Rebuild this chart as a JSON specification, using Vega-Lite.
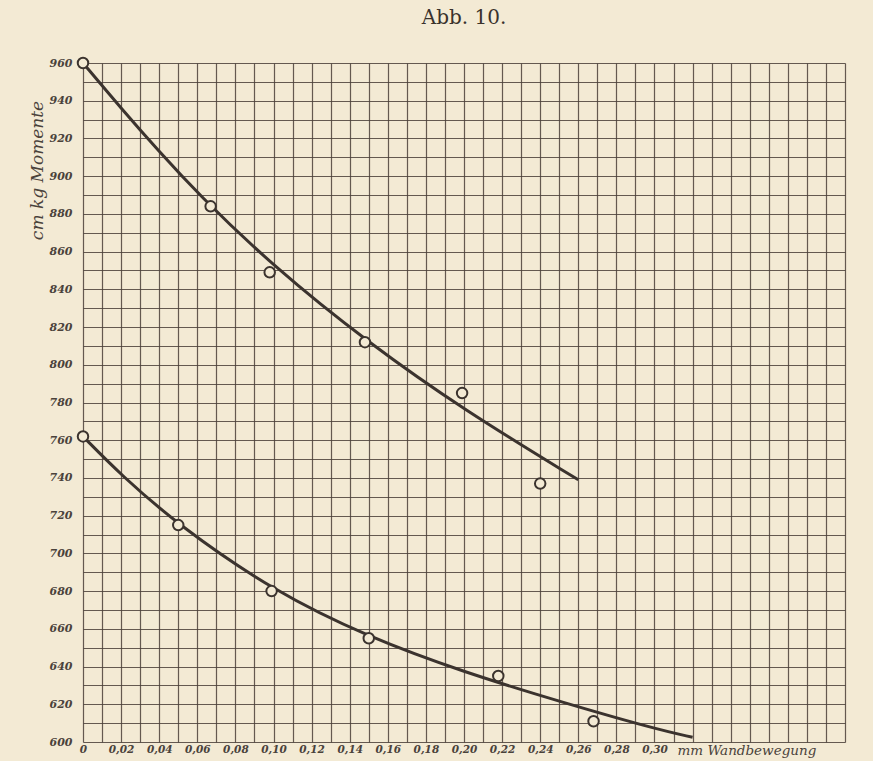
{
  "$schema": "https://vega.github.io/schema/vega-lite/v6.json",
  "autosize": {"type": "none"},
  "padding": {"left": 83, "top": 63, "right": 28, "bottom": 19},
  "width": 762,
  "height": 679,
  "background": "#f3ead4",
  "title": {
    "text": "Abb. 10.",
    "font": "DejaVu Serif",
    "fontSize": 20,
    "fontWeight": "normal",
    "color": "#3a322c",
    "anchor": "middle",
    "frame": "group",
    "baseline": "alphabetic",
    "offset": 10
  },
  "data": {
    "values": [
      {"series": "oben", "kind": "curve", "x": 0, "y": 960},
      {"series": "oben", "kind": "curve", "x": 0.02, "y": 936},
      {"series": "oben", "kind": "curve", "x": 0.04, "y": 913},
      {"series": "oben", "kind": "curve", "x": 0.06, "y": 891},
      {"series": "oben", "kind": "curve", "x": 0.10, "y": 852},
      {"series": "oben", "kind": "curve", "x": 0.15, "y": 811.5},
      {"series": "oben", "kind": "curve", "x": 0.20, "y": 776},
      {"series": "oben", "kind": "curve", "x": 0.26, "y": 739},
      {"series": "unten", "kind": "curve", "x": 0, "y": 762},
      {"series": "unten", "kind": "curve", "x": 0.02, "y": 741.5},
      {"series": "unten", "kind": "curve", "x": 0.05, "y": 715},
      {"series": "unten", "kind": "curve", "x": 0.10, "y": 680},
      {"series": "unten", "kind": "curve", "x": 0.15, "y": 655.5},
      {"series": "unten", "kind": "curve", "x": 0.20, "y": 637},
      {"series": "unten", "kind": "curve", "x": 0.25, "y": 621.5},
      {"series": "unten", "kind": "curve", "x": 0.30, "y": 607},
      {"series": "unten", "kind": "curve", "x": 0.32, "y": 602.5},
      {"series": "oben", "kind": "point", "x": 0, "y": 960},
      {"series": "oben", "kind": "point", "x": 0.067, "y": 884},
      {"series": "oben", "kind": "point", "x": 0.098, "y": 849},
      {"series": "oben", "kind": "point", "x": 0.148, "y": 812},
      {"series": "oben", "kind": "point", "x": 0.199, "y": 785},
      {"series": "oben", "kind": "point", "x": 0.24, "y": 737},
      {"series": "unten", "kind": "point", "x": 0, "y": 762},
      {"series": "unten", "kind": "point", "x": 0.05, "y": 715},
      {"series": "unten", "kind": "point", "x": 0.099, "y": 680},
      {"series": "unten", "kind": "point", "x": 0.15, "y": 655},
      {"series": "unten", "kind": "point", "x": 0.218, "y": 635},
      {"series": "unten", "kind": "point", "x": 0.268, "y": 611}
    ]
  },
  "encoding": {
    "x": {
      "field": "x",
      "type": "quantitative",
      "scale": {"domain": [0, 0.4], "nice": false, "zero": false},
      "axis": {
        "values": [0,0.01,0.02,0.03,0.04,0.05,0.06,0.07,0.08,0.09,0.1,0.11,0.12,0.13,0.14,0.15,0.16,0.17,0.18,0.19,0.2,0.21,0.22,0.23,0.24,0.25,0.26,0.27,0.28,0.29,0.3,0.31,0.32,0.33,0.34,0.35,0.36,0.37,0.38,0.39,0.4],
        "labelExpr": "datum.value == 0 ? '0' : ((round(datum.value*100) % 2 == 0 && datum.value < 0.305) ? replace(format(datum.value, '.2f'), '.', ',') : '')",
        "labelFont": "DejaVu Serif",
        "labelFontStyle": "italic",
        "labelFontWeight": "bold",
        "labelFontSize": 10.5,
        "labelColor": "#4a423b",
        "labelPadding": 2,
        "labelBaseline": "top",
        "labelOverlap": false,
        "labelFlush": false,
        "ticks": false,
        "domain": false,
        "grid": true,
        "gridColor": "#4a4038",
        "gridOpacity": 0.85,
        "gridWidth": 1.2,
        "title": "mm Wandbewegung",
        "titleFont": "DejaVu Serif",
        "titleFontStyle": "italic",
        "titleFontWeight": "normal",
        "titleFontSize": 13.5,
        "titleColor": "#4a423b",
        "titleAlign": "left",
        "titleBaseline": "middle",
        "titleX": 594,
        "titleY": 8
      }
    },
    "y": {
      "field": "y",
      "type": "quantitative",
      "scale": {"domain": [600, 960], "nice": false, "zero": false},
      "axis": {
        "values": [600,610,620,630,640,650,660,670,680,690,700,710,720,730,740,750,760,770,780,790,800,810,820,830,840,850,860,870,880,890,900,910,920,930,940,950,960],
        "labelExpr": "datum.value % 20 == 0 ? datum.value : ''",
        "labelFont": "DejaVu Serif",
        "labelFontStyle": "italic",
        "labelFontWeight": "bold",
        "labelFontSize": 11,
        "labelColor": "#4a423b",
        "labelPadding": 11,
        "labelOverlap": false,
        "labelFlush": false,
        "ticks": false,
        "domain": false,
        "grid": true,
        "gridColor": "#4a4038",
        "gridOpacity": 0.85,
        "gridWidth": 1.2,
        "title": "cm kg Momente",
        "titleFont": "DejaVu Serif",
        "titleFontStyle": "italic",
        "titleFontWeight": "normal",
        "titleFontSize": 17,
        "titleColor": "#4a423b",
        "titleAngle": -90,
        "titleAlign": "center",
        "titleBaseline": "middle",
        "titleX": -46,
        "titleY": 107
      }
    }
  },
  "layer": [
    {
      "transform": [{"filter": "datum.kind == 'curve'"}],
      "mark": {"type": "line", "interpolate": "basis", "color": "#3b332e", "strokeWidth": 3},
      "encoding": {"detail": {"field": "series"}}
    },
    {
      "transform": [{"filter": "datum.kind == 'point'"}],
      "mark": {"type": "point", "shape": "circle", "filled": false, "fill": "#f3ead4", "fillOpacity": 1, "stroke": "#3b332e", "strokeWidth": 2, "size": 110, "opacity": 1}
    }
  ],
  "config": {"view": {"stroke": null}}
}
